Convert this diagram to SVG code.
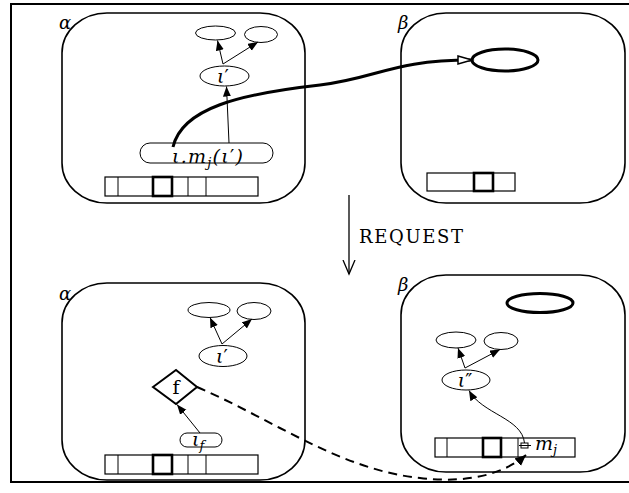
<svg xmlns="http://www.w3.org/2000/svg" width="629" height="493" viewBox="0 0 629 493">
<style>
.box{fill:none;stroke:#000;stroke-width:1.6}
.thin{fill:#fff;stroke:#000;stroke-width:1}
.bar{fill:#fff;stroke:#000;stroke-width:1.2}
.sq{fill:none;stroke:#000;stroke-width:2.6}
.ln{fill:none;stroke:#000;stroke-width:1}
.m{font-family:"DejaVu Serif","Liberation Serif",serif;font-style:italic;fill:#000}
.r{font-family:"DejaVu Serif","Liberation Serif",serif;fill:#000}
.p{font-family:"DejaVu Sans","Liberation Sans",sans-serif;font-style:normal}
</style>
<defs>
<marker id="ah" markerUnits="userSpaceOnUse" markerWidth="12" markerHeight="10" refX="10" refY="4" orient="auto">
<path d="M0,0 L10,4 L0,8 z" fill="#000"/>
</marker>
<marker id="hollow" markerUnits="userSpaceOnUse" markerWidth="18" markerHeight="12" refX="15" refY="5" orient="auto">
<path d="M1,1 L15,5 L1,9 z" fill="#fff" stroke="#000" stroke-width="1.5"/>
</marker>
<marker id="vee" markerUnits="userSpaceOnUse" markerWidth="16" markerHeight="16" refX="14" refY="7" orient="auto">
<path d="M0,1 L14,7 L0,13" fill="none" stroke="#000" stroke-width="1.3"/>
</marker>
<marker id="dh" markerUnits="userSpaceOnUse" markerWidth="14" markerHeight="12" refX="11" refY="5" orient="auto">
<path d="M0,0 L11,5 L0,10 z" fill="#000"/>
</marker>
</defs>
<rect x="0" y="0" width="629" height="493" fill="#fff"/>
<rect x="11" y="4" width="630" height="478" fill="none" stroke="#000" stroke-width="2"/>

<!-- top alpha -->
<g id="alpha-top">
<rect class="box" x="62" y="13" width="243" height="190" rx="45" ry="40"/>
<text class="m" x="59" y="29" font-size="18">α</text>
<ellipse class="thin" cx="215.5" cy="33" rx="20" ry="7"/>
<ellipse class="thin" cx="261" cy="34.5" rx="16.5" ry="8"/>
<ellipse class="thin" cx="224.5" cy="76" rx="24.5" ry="10"/>
<text class="m" x="223" y="83" font-size="19" text-anchor="middle">ι<tspan class="p">′</tspan></text>
<rect class="thin" x="140" y="143" width="133" height="20" rx="10" ry="10"/>
<text class="m" x="172" y="163" font-size="19" textLength="71" lengthAdjust="spacing">ι.m<tspan font-size="13" dy="4">j</tspan><tspan dy="-4">(ι</tspan><tspan class="p">′</tspan>)</text>
<rect class="bar" x="105" y="177" width="153" height="19"/>
<path class="ln" d="M118,177 V196 M188,177 V196 M206,177 V196"/>
<rect class="sq" x="153" y="177" width="19" height="19"/>
</g>

<!-- top beta -->
<g id="beta-top">
<rect class="box" x="401" y="13" width="224" height="190" rx="45" ry="40"/>
<text class="m" x="398" y="29" font-size="18">β</text>
<ellipse cx="505" cy="60" rx="33" ry="11" fill="#fff" stroke="#000" stroke-width="3"/>
<rect class="bar" x="427" y="173" width="88" height="18"/>
<rect class="sq" x="474" y="173" width="19" height="18"/>
</g>

<!-- bottom alpha -->
<g id="alpha-bottom">
<rect class="box" x="62" y="283" width="243" height="197" rx="45" ry="40"/>
<text class="m" x="59" y="300" font-size="18">α</text>
<ellipse class="thin" cx="209" cy="310" rx="21" ry="7.5"/>
<ellipse class="thin" cx="254" cy="311" rx="17" ry="8.5"/>
<ellipse class="thin" cx="223" cy="356" rx="24" ry="10.5"/>
<text class="m" x="222" y="363" font-size="19" text-anchor="middle">ι<tspan class="p">′</tspan></text>
<polygon points="153,387 176,370 197,387 176,404" fill="#fff" stroke="#000" stroke-width="2"/>
<text class="r" x="176" y="394" font-size="19" text-anchor="middle">f</text>
<rect class="thin" x="180" y="433" width="42" height="14" rx="7" ry="7"/>
<text class="m" x="192" y="446" font-size="19">ι<tspan font-size="13" dy="4">f</tspan></text>
<rect class="bar" x="105" y="455" width="153" height="19"/>
<path class="ln" d="M118,455 V474 M188,455 V474 M206,455 V474"/>
<rect class="sq" x="153" y="455" width="19" height="19"/>
</g>

<!-- bottom beta -->
<g id="beta-bottom">
<rect class="box" x="401" y="275" width="224" height="197" rx="45" ry="40"/>
<text class="m" x="398" y="291" font-size="18">β</text>
<ellipse cx="540" cy="303" rx="33" ry="9.5" fill="#fff" stroke="#000" stroke-width="3"/>
<ellipse class="thin" cx="456" cy="340" rx="20" ry="8"/>
<ellipse class="thin" cx="501" cy="341" rx="17" ry="8.5"/>
<ellipse class="thin" cx="466" cy="380" rx="24" ry="10"/>
<text class="m" x="465" y="387" font-size="19" text-anchor="middle">ι<tspan class="p">″</tspan></text>
<rect class="bar" x="435" y="438" width="140" height="19"/>
<path class="ln" d="M447,438 V457 M518,438 V457"/>
<rect class="sq" x="483" y="438" width="18" height="19"/>
<rect x="521" y="443" width="7" height="5" fill="#fff" stroke="#000" stroke-width="1"/>
<path class="ln" d="M519,445.5 H531"/>
<text class="m" x="535" y="450" font-size="19">m<tspan font-size="13" dy="4">j</tspan></text>
</g>

<!-- REQUEST -->
<g id="request">
<line x1="349" y1="195" x2="349" y2="274" stroke="#000" stroke-width="1.3" marker-end="url(#vee)"/>
<text class="r" x="359" y="243" font-size="18" textLength="104" lengthAdjust="spacing">REQUEST</text>
</g>

<!-- connectors -->
<g id="connectors">
<line x1="223" y1="64" x2="217.5" y2="40.5" class="ln" marker-end="url(#ah)"/>
<line x1="223" y1="64" x2="258" y2="42" class="ln" marker-end="url(#ah)"/>
<line x1="229" y1="143" x2="226.5" y2="86.5" class="ln" marker-end="url(#ah)"/>
<path d="M173,147 C182,108 240,94 320,85 C378,78 392,60 472,60" fill="none" stroke="#000" stroke-width="3" marker-end="url(#hollow)"/>

<line x1="222" y1="344" x2="210" y2="317.5" class="ln" marker-end="url(#ah)"/>
<line x1="222" y1="344" x2="252" y2="319" class="ln" marker-end="url(#ah)"/>
<line x1="200" y1="433" x2="177" y2="404.5" class="ln" marker-end="url(#ah)"/>
<path d="M197,387 C270,418 340,470 420,478 C470,484 505,473 526,455" fill="none" stroke="#000" stroke-width="2" stroke-dasharray="9,6" marker-end="url(#dh)"/>

<line x1="465" y1="368" x2="458" y2="348" class="ln" marker-end="url(#ah)"/>
<line x1="465" y1="368" x2="500" y2="349.5" class="ln" marker-end="url(#ah)"/>
<path d="M524.5,443 C522,418 482,414 469,390.5" class="ln" stroke-width="1.2" marker-end="url(#ah)"/>
</g>
</svg>
